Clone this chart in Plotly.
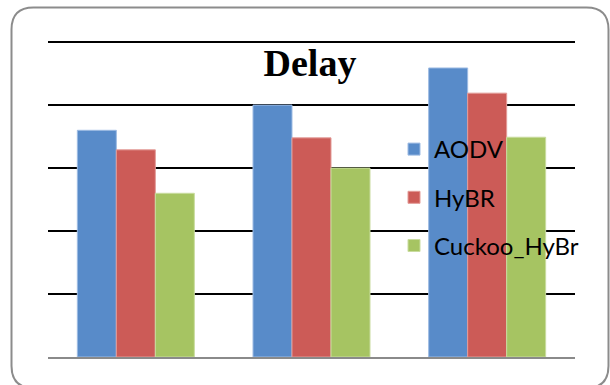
import plotly.graph_objects as go

categories = ["1", "2", "3"]
aodv = [3.6, 4.0, 4.59]
hybr = [3.29, 3.48, 4.19]
cuckoo_hybr = [2.6, 3.0, 3.49]
series_names = ["AODV", "HyBR", "Cuckoo_HyBr"]
series_colors = ["#588BC9", "#CC5B57", "#A6C462"]
edge_colors = ["#9dbbe3", "#e39c98", "#c9dc9f"]
y_tick_values = [1, 2, 3, 4, 5]

W, H = 610, 385
L, R, T, B = 48, 35, 39, 28

fig = go.Figure()
for i, (name, vals, col, ec) in enumerate(zip(series_names, [aodv, hybr, cuckoo_hybr],
                                              series_colors, edge_colors)):
    fig.add_trace(go.Bar(
        x=categories, y=vals, name=name, legendgroup=f"g{i}",
        marker=dict(color=col, line=dict(width=1, color=ec)),
    ))

# rounded border in paper coordinates
pw, ph = W - L - R, H - T - B
def px(x):
    return (x - L) / pw
def py(y):
    return (H - B - y) / ph

x0, x1, y0, y1, r = 11.5, 608.5, 7.5, 388.0, 22
path = (
    f"M {px(x0 + r)},{py(y0)} L {px(x1 - r)},{py(y0)} "
    f"Q {px(x1)},{py(y0)} {px(x1)},{py(y0 + r)} "
    f"L {px(x1)},{py(y1 - r)} Q {px(x1)},{py(y1)} {px(x1 - r)},{py(y1)} "
    f"L {px(x0 + r)},{py(y1)} Q {px(x0)},{py(y1)} {px(x0)},{py(y1 - r)} "
    f"L {px(x0)},{py(y0 + r)} Q {px(x0)},{py(y0)} {px(x0 + r)},{py(y0)} Z"
)

fig.update_layout(
    width=W, height=H,
    margin=dict(l=L, r=R, t=T, b=B, autoexpand=False),
    paper_bgcolor="white", plot_bgcolor="white",
    barmode="group", bargap=0.334, bargroupgap=0,
    title=dict(text="<b>Delay</b>", x=px(310), xref="paper", xanchor="center",
               y=1 - 63 / H, yref="container", yanchor="middle",
               font=dict(family="Liberation Serif", size=38, color="black")),
    legend=dict(x=px(394), xref="paper", xanchor="left",
                y=py(127), yref="paper", yanchor="top",
                font=dict(family="Lato", size=24, color="black"),
                tracegroupgap=14, bgcolor="rgba(0,0,0,0)"),
    shapes=[dict(type="path", path=path, xref="paper", yref="paper",
                 line=dict(color="#8c8c8c", width=2), fillcolor="rgba(0,0,0,0)", layer="above")],
    showlegend=True,
)
fig.update_xaxes(showticklabels=False, showline=True, linecolor="#8a8a8a", linewidth=2,
                 ticks="", showgrid=False, zeroline=False)
fig.update_yaxes(range=[0, 5.05], tickvals=y_tick_values, showticklabels=False, showgrid=True,
                 gridcolor="black", gridwidth=2, zeroline=False, showline=False, ticks="")

fig.write_html("out.html", config={"displayModeBar": False},
               post_script="document.body.style.margin='0';")
